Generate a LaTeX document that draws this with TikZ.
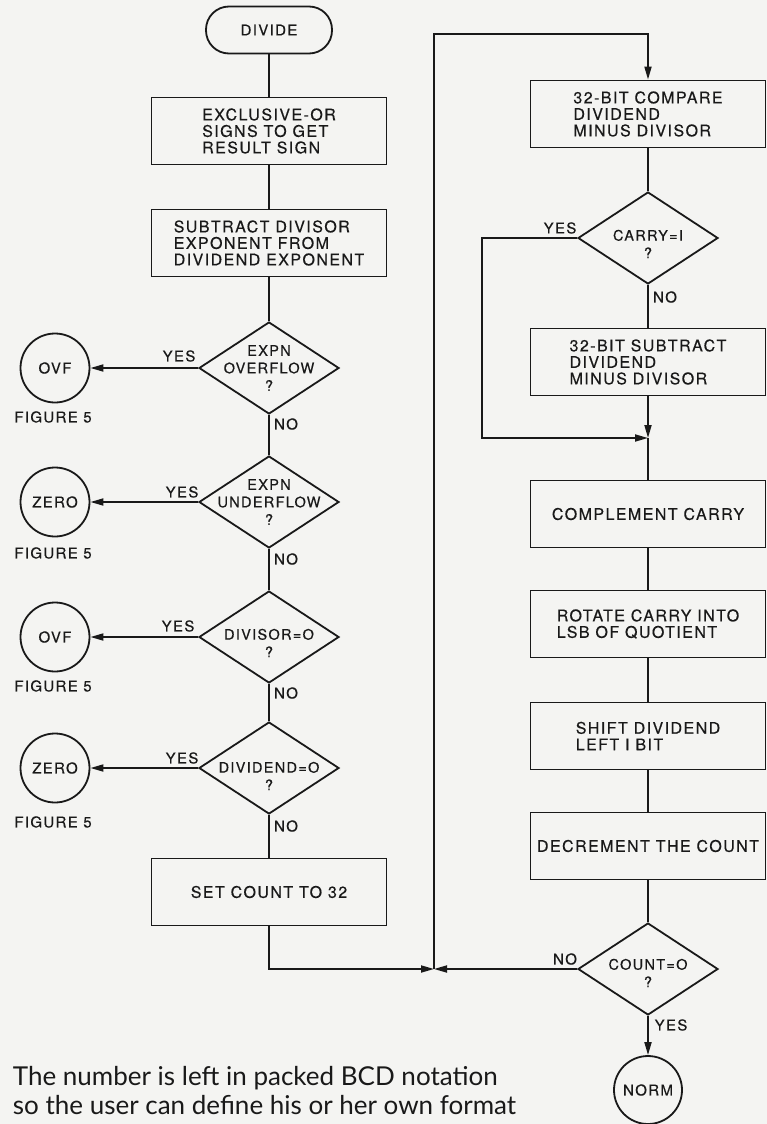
\documentclass[tikz,border=0pt]{standalone}
\usepackage{fontspec}
\setmainfont{TeX Gyre Heros}
\newfontfamily\labf{TeX Gyre Heros}[LetterSpace=9, FakeBold=0.4]
\newfontfamily\bodyf{Lato}
\usetikzlibrary{arrows.meta,shapes.geometric}
\definecolor{paper}{RGB}{244,244,242}
\definecolor{ink}{RGB}{25,25,25}
\begin{document}
\begin{tikzpicture}[x=1pt,y=-1pt,
  line width=1.8pt, draw=ink,
  every node/.style={font=\labf\fontsize{16}{16.5}\selectfont, text=ink},
  proc/.style={draw=ink, rectangle, minimum width=235pt, minimum height=67pt, align=left, inner sep=0pt},
  term/.style={draw=ink, rectangle, rounded corners=23pt, minimum width=126pt, minimum height=47pt, inner sep=0pt, font=\labf\fontsize{15}{16}\selectfont},
  dec/.style={draw=ink, diamond, minimum width=140pt, minimum height=92pt, inner sep=0pt},
  dtext/.style={align=center, inner sep=0pt, font=\labf\fontsize{14.5}{17.5}\selectfont},
  conn/.style={draw=ink, circle, minimum size=69pt, inner sep=0pt, font=\labf\fontsize{15}{16}\selectfont},
  lbl/.style={inner sep=0pt, font=\labf\fontsize{15}{16}\selectfont},
  arr/.style={-{Triangle[length=13pt,width=7pt]}},
  body/.style={anchor=base west, inner sep=0pt, font=\bodyf\fontsize{26}{29}\selectfont}
]
\useasboundingbox (0,0) rectangle (767,1124);
\fill[paper] (0,0) rectangle (767,1124);

% left column
\node[term] (start) at (269,30) {DIVIDE};
\node[proc] (b1) at (269,131) {EXCLUSIVE-OR\\SIGNS TO GET\\RESULT SIGN};
\node[proc] (b2) at (269,243) {SUBTRACT DIVISOR\\EXPONENT FROM\\DIVIDEND EXPONENT};
\node[dec] (d1) at (269,368) {};
\node[dtext] (d1t) at (269,368) {EXPN\\OVERFLOW\\?};
\node[dec] (d2) at (269,502) {};
\node[dtext] (d2t) at (269,502) {EXPN\\UNDERFLOW\\?};
\node[dec] (d3) at (269,637) {};
\node[dtext] (d3t) at (269,643) {DIVISOR=O\\?};
\node[dec] (d4) at (269,768) {};
\node[dtext] (d4t) at (269,776) {DIVIDEND=O\\?};
\node[proc] (setc) at (269,892) {SET COUNT TO 32};

\node[conn] (c1) at (55,368) {OVF};
\node[conn] (c2) at (55,502) {ZERO};
\node[conn] (c3) at (55,637) {OVF};
\node[conn] (c4) at (55,768) {ZERO};
\node[lbl] (f1) at (53,417) {FIGURE 5};
\node[lbl] (f2) at (53,553) {FIGURE 5};
\node[lbl] (f3) at (53,686) {FIGURE 5};
\node[lbl] (f4) at (53,822) {FIGURE 5};

\node[lbl] (y1) at (179,356) {YES};
\node[lbl] (y2) at (182,492) {YES};
\node[lbl] (y3) at (178,626) {YES};
\node[lbl] (y4) at (182,758) {YES};
\node[lbl] (n1) at (286,424) {NO};
\node[lbl] (n2) at (286,559) {NO};
\node[lbl] (n3) at (286,693) {NO};
\node[lbl] (n4) at (286,826) {NO};

% right column
\node[proc] (r1) at (648,114) {32-BIT COMPARE\\DIVIDEND\\MINUS DIVISOR};
\node[dec] (d5) at (648,238) {};
\node[dtext] (d5t) at (648,244) {CARRY=I\\?};
\node[proc] (r2) at (648,362) {32-BIT SUBTRACT\\DIVIDEND\\MINUS DIVISOR};
\node[proc] (r3) at (648,514) {COMPLEMENT CARRY};
\node[proc] (r4) at (648,624) {ROTATE CARRY INTO\\LSB OF QUOTIENT};
\node[proc] (r5) at (648,736) {SHIFT DIVIDEND\\LEFT I BIT};
\node[proc] (r6) at (648,846) {DECREMENT THE COUNT};
\node[dec] (d6) at (648,969) {};
\node[dtext] (d6t) at (648,973) {COUNT=O\\?};
\node[conn, minimum size=68pt] (norm) at (648,1090) {NORM};

\node[lbl] (y5) at (560,228) {YES};
\node[lbl] (n5) at (665,297) {NO};
\node[lbl] (n6) at (565,959) {NO};
\node[lbl] (y6) at (671,1025) {YES};

\coordinate (jn) at (434,969);
\coordinate (tl) at (434,34);
\coordinate (yl) at (482,238);
\coordinate (jr) at (648,438);

% connectors left
\draw (start.south) -- (b1.north);
\draw (b1.south) -- (b2.north);
\draw (b2.south) -- (d1.north);
\draw (d1.south) -- (d2.north);
\draw (d2.south) -- (d3.north);
\draw (d3.south) -- (d4.north);
\draw (d4.south) -- (setc.north);
\draw[arr] (d1.west) -- (c1.east);
\draw[arr] (d2.west) -- (c2.east);
\draw[arr] (d3.west) -- (c3.east);
\draw[arr] (d4.west) -- (c4.east);
\draw[arr] (setc.south) |- (jn);
\draw[arr] (d6.west) -- (jn);
\draw[arr] (jn) -- (tl) -| (r1.north);

% connectors right
\draw (r1.south) -- (d5.north);
\draw (d5.south) -- (r2.north);
\draw[arr] (r2.south) -- (jr);
\draw[arr] (d5.west) -- (yl) |- (jr);
\draw (jr) -- (r3.north);
\draw (r3.south) -- (r4.north);
\draw (r4.south) -- (r5.north);
\draw (r5.south) -- (r6.north);
\draw (r6.south) -- (d6.north);
\draw[arr] (d6.south) -- (norm.north);

% body text
\node[body] (t1) at (12,1085) {The number is left in packed BCD notation};
\node[body] (t2) at (12,1114) {so the user can define his or her own format};
\end{tikzpicture}
\end{document}
